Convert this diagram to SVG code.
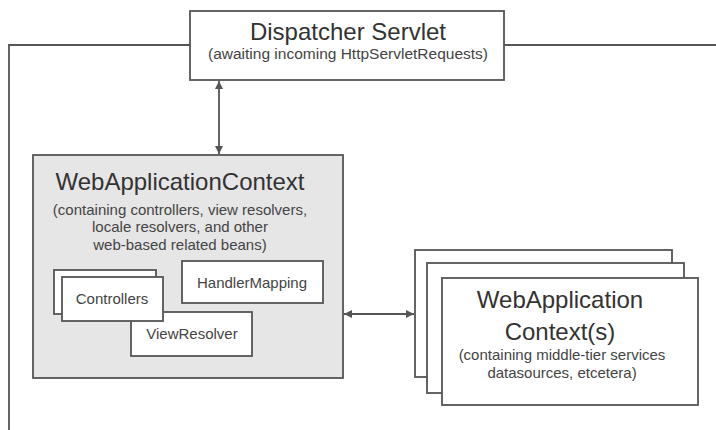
<svg xmlns="http://www.w3.org/2000/svg" width="716" height="430" viewBox="0 0 716 430">
<style>
.box{fill:#fff;stroke:#555;stroke-width:1.8}
.gbox{fill:#e6e6e6;stroke:#555;stroke-width:1.8}
.line{fill:none;stroke:#555;stroke-width:1.8}
text{font-family:"Liberation Sans",Arial,sans-serif;text-anchor:middle;fill:#333}
.t1{font-size:24px}
.t2{font-size:15px;fill:#444}
.t3{font-size:15px;fill:#444}
</style>
<defs>
<marker id="ah" viewBox="0 0 10 10" refX="10" refY="5" markerWidth="9" markerHeight="8" markerUnits="userSpaceOnUse" orient="auto-start-reverse">
<path d="M0,0 L10,5 L0,10 z" fill="#555"/>
</marker>
</defs>
<rect width="716" height="430" fill="#fff"/>
<g id="connectors">
<path class="line" d="M9,430 V45 H190"/>
<path class="line" d="M504,45 H716"/>
<path class="line" d="M219,81 V154" marker-start="url(#ah)" marker-end="url(#ah)"/>
<path class="line" d="M344,314 H414" marker-start="url(#ah)" marker-end="url(#ah)"/>
</g>
<g id="dispatcher">
<rect class="box" x="190" y="11" width="314" height="69"/>
<text class="t1" x="348" y="40">Dispatcher Servlet</text>
<text class="t2" x="348" y="59" style="font-size:15.5px">(awaiting incoming HttpServletRequests)</text>
</g>
<g id="wac">
<rect class="gbox" x="33" y="155" width="310" height="223"/>
<text class="t1" x="180" y="190">WebApplicationContext</text>
<text class="t2" x="180" y="215">(containing controllers, view resolvers,</text>
<text class="t2" x="180" y="232">locale resolvers, and other</text>
<text class="t2" x="180" y="250">web-based related beans)</text>
</g>
<g id="handlermapping">
<rect class="box" x="182" y="261" width="141" height="42"/>
<text class="t3" x="252" y="288">HandlerMapping</text>
</g>
<g id="viewresolver">
<rect class="box" x="131" y="312" width="121" height="44"/>
<text class="t3" x="192" y="339">ViewResolver</text>
</g>
<g id="controllers">
<rect class="box" x="54" y="270" width="102" height="44"/>
<rect class="box" x="62" y="277" width="101" height="44"/>
<text class="t3" x="112" y="304">Controllers</text>
</g>
<g id="wacs">
<rect class="box" x="415" y="250" width="257" height="127"/>
<rect class="box" x="427" y="263" width="257" height="130"/>
<rect class="box" x="442" y="278" width="256" height="127"/>
<text class="t1" x="560" y="308">WebApplication</text>
<text class="t1" x="560" y="340">Context(s)</text>
<text class="t2" x="562" y="360">(containing middle-tier services</text>
<text class="t2" x="562" y="378">datasources, etcetera)</text>
</g>
</svg>
